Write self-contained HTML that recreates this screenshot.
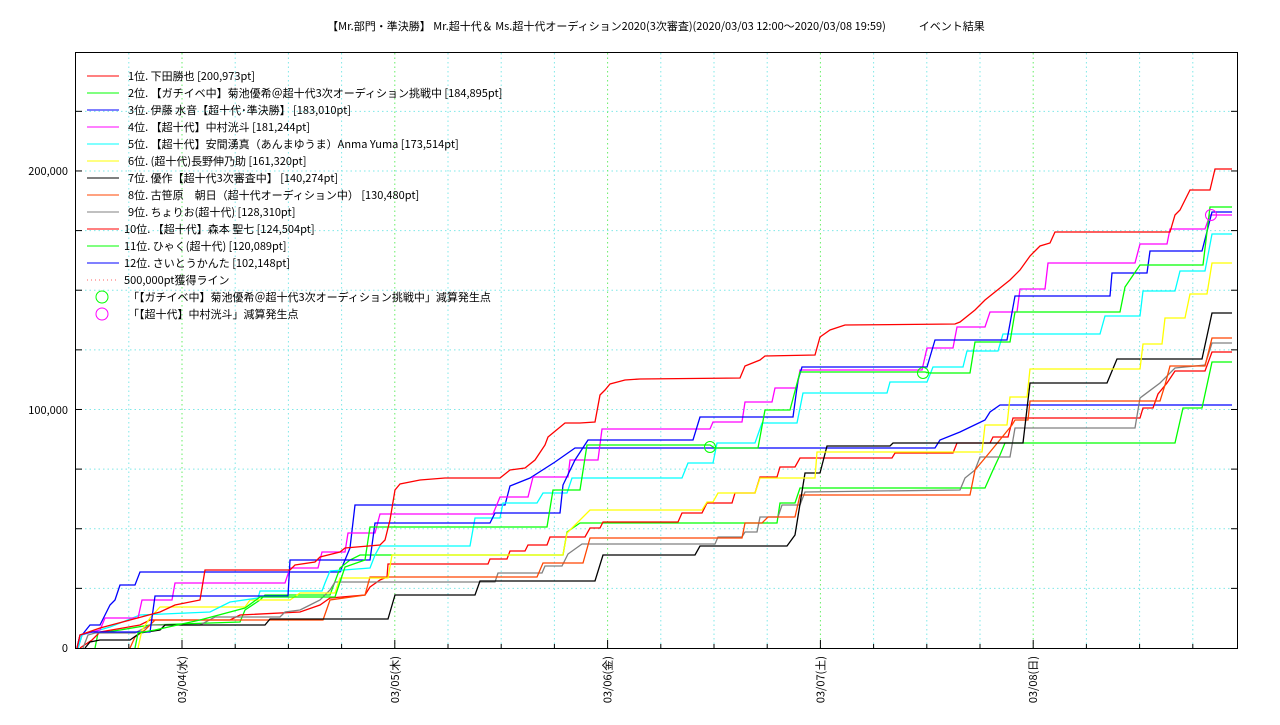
<!DOCTYPE html>
<html><head><meta charset="utf-8"><style>
body{margin:0;background:#fff;width:1280px;height:720px;overflow:hidden}
svg{font-family:"Noto Sans CJK JP","Liberation Sans",sans-serif}
</style></head><body>
<svg id="s" width="1280" height="720" xmlns="http://www.w3.org/2000/svg">
<rect width="1280" height="720" fill="#fff"/>
<text x="656" y="30" font-size="11" text-anchor="middle" fill="#000">【Mr.部門・準決勝】 Mr.超十代＆ Ms.超十代オーディション2020(3次審査)(2020/03/03 12:00～2020/03/08 19:59)　　　イベント結果</text>
<g id="grid"></g>
<g id="series" fill="none" stroke-width="1.3"></g>
<rect x="75.5" y="52.5" width="1162" height="596" fill="none" stroke="#000" stroke-width="1"/>
<g id="ticks" stroke="#000"></g>
<g font-size="11" fill="#000" text-anchor="end">
<text x="68" y="652">0</text><text x="68" y="414">100,000</text><text x="68" y="175">200,000</text>
</g>
<g id="xl" font-size="11" fill="#000"></g>
<g id="leg" font-size="11" fill="#000"></g>
<circle cx="710" cy="447" r="5.5" fill="none" stroke="#00ff00"/>
<circle cx="923" cy="373" r="5.5" fill="none" stroke="#00ff00"/>
<circle cx="1211" cy="215" r="5.5" fill="none" stroke="#ff00ff"/>
</svg>
<script>
var NS="http://www.w3.org/2000/svg";
function el(p,t,a,txt){var e=document.createElementNS(NS,t);for(var k in a)e.setAttribute(k,a[k]);if(txt)e.textContent=txt;document.getElementById(p).appendChild(e);return e;}
for(var k=1;k<10;k++){var y=648-k*59.63;if(y<53)break;el("grid","line",{x1:76,x2:1237,y1:y,y2:y,stroke:"#7fe8e8","stroke-dasharray":"1.5,3","stroke-width":1});
el("ticks","line",{x1:76,x2:82,y1:y,y2:y});el("ticks","line",{x1:1231,x2:1237,y1:y,y2:y});}
for(var i=-1;i<22;i++){var x=182+i*53.2;if(x<77||x>1236)continue;var maj=(i%4==0);
el("grid","line",{x1:x,x2:x,y1:53,y2:648,stroke:maj?"#66ee66":"#7fe8e8","stroke-dasharray":"1.5,3","stroke-width":1});
el("ticks","line",{x1:x,x2:x,y1:648,y2:maj?640:644});}
var days=["03/04(水)","03/05(木)","03/06(金)","03/07(土)","03/08(日)"];
for(var d=0;d<5;d++){var x=182+d*212.8;el("xl","text",{x:0,y:0,"text-anchor":"end",transform:"translate("+(x+4)+",656) rotate(-90)"},days[d]);}
var L=[["#ff0000","1位. 下田勝也 [200,973pt]"],["#00ff00","2位. 【ガチイベ中】菊池優希＠超十代3次オーディション挑戦中 [184,895pt]"],["#0000ff","3位. 伊藤 水音【超十代･準決勝】 [183,010pt]"],["#ff00ff","4位. 【超十代】中村洸斗 [181,244pt]"],["#00ffff","5位. 【超十代】安間湧真（あんまゆうま）Anma Yuma [173,514pt]"],["#ffff00","6位. (超十代)長野伸乃助 [161,320pt]"],["#000000","7位. 優作【超十代3次審査中】 [140,274pt]"],["#ff4500","8位. 古笹原　朝日（超十代オーディション中） [130,480pt]"],["#808080","9位. ちょりお(超十代) [128,310pt]"],["#ff0000","10位. 【超十代】森本 聖七 [124,504pt]"],["#00ff00","11位. ひゃく(超十代) [120,089pt]"],["#0000ff","12位. さいとうかんた [102,148pt]"]];
for(var i=0;i<L.length;i++){var y=76+i*17;el("leg","line",{x1:87,x2:119,y1:y,y2:y,stroke:L[i][0],"stroke-width":1});el("leg","text",{x:i<9?128:124,y:y+4},L[i][1]);}
el("leg","line",{x1:87,x2:119,y1:280,y2:280,stroke:"#ff6060","stroke-dasharray":"1,3"});el("leg","text",{x:124,y:284},"500,000pt獲得ライン");
el("leg","circle",{cx:102,cy:297,r:6,fill:"none",stroke:"#00ff00"});el("leg","text",{x:128,y:301},"「【ガチイベ中】菊池優希＠超十代3次オーディション挑戦中」減算発生点");
el("leg","circle",{cx:102,cy:314,r:6,fill:"none",stroke:"#ff00ff"});el("leg","text",{x:128,y:318},"「【超十代】中村洸斗」減算発生点");
var S=[
["#ff0000",[[77,648],[80,635],[100,628],[130,620],[160,612],[175,605],[200,600],[205,570],[290,570],[295,565],[315,562],[320,557],[340,552],[345,548],[380,545],[385,540],[390,520],[395,490],[400,484],[420,480],[445,478],[500,478],[510,470],[525,468],[535,460],[545,445],[548,437],[565,423],[580,423],[595,422],[600,395],[605,390],[610,384],[625,380],[640,379],[740,378],[745,366],[760,360],[765,356],[815,355],[820,337],[830,330],[845,325],[955,324],[960,322],[975,310],[985,300],[1005,284],[1010,280],[1020,270],[1030,256],[1040,246],[1050,243],[1055,232],[1170,232],[1175,215],[1180,210],[1190,190],[1210,190],[1215,169],[1232,169]]],
["#00ff00",[[135,648],[138,633],[155,630],[200,620],[245,608],[260,597],[335,597],[345,567],[365,560],[370,527],[547,527],[553,490],[580,490],[587,445],[710,445],[715,448],[758,448],[765,410],[790,410],[800,372],[925,372],[930,373],[970,373],[975,342],[1010,342],[1015,312],[1120,312],[1125,287],[1140,265],[1203,265],[1210,207],[1232,207]]],
["#0000ff",[[77,648],[80,635],[90,632],[150,632],[155,596],[288,596],[290,560],[370,560],[375,523],[490,523],[495,513],[560,513],[563,485],[575,460],[588,440],[693,440],[700,417],[793,417],[798,380],[802,367],[927,367],[935,340],[1007,340],[1015,296],[1110,296],[1112,273],[1147,273],[1150,251],[1202,251],[1212,212],[1232,212]]],
["#ff00ff",[[77,648],[80,635],[100,630],[105,618],[138,618],[142,600],[172,600],[175,583],[285,583],[290,568],[318,568],[322,552],[345,552],[348,533],[375,533],[380,514],[493,514],[500,497],[528,497],[533,477],[568,477],[570,460],[598,460],[602,429],[710,429],[713,422],[742,422],[745,402],[772,402],[775,388],[797,388],[800,370],[922,370],[927,348],[953,348],[957,327],[985,327],[990,312],[1017,312],[1020,289],[1045,289],[1048,263],[1135,263],[1140,244],[1167,244],[1170,229],[1205,229],[1210,215],[1232,215]]],
["#00ffff",[[78,648],[82,635],[110,627],[140,615],[210,612],[230,602],[258,598],[260,591],[322,591],[325,583],[330,571],[370,568],[375,555],[380,546],[470,546],[475,518],[500,518],[503,503],[537,503],[543,493],[567,493],[572,478],[682,478],[688,463],[713,463],[717,443],[755,443],[762,423],[797,423],[803,393],[887,393],[890,382],[927,382],[933,367],[963,367],[967,351],[998,351],[1003,334],[1100,334],[1105,316],[1140,316],[1143,291],[1175,291],[1180,271],[1205,271],[1212,234],[1232,234]]],
["#ffff00",[[138,648],[142,630],[150,618],[160,607],[245,607],[250,600],[290,600],[300,593],[335,593],[340,578],[388,578],[392,555],[563,555],[567,533],[590,510],[702,510],[707,502],[713,502],[718,493],[755,493],[760,478],[815,478],[817,452],[982,452],[985,425],[1007,425],[1010,397],[1027,397],[1030,369],[1140,369],[1143,344],[1162,344],[1165,318],[1185,318],[1190,294],[1207,294],[1212,263],[1232,263]]],
["#000000",[[85,648],[90,642],[100,640],[130,640],[140,633],[160,630],[165,625],[265,625],[270,619],[388,619],[395,595],[475,595],[480,581],[595,581],[603,555],[695,555],[700,546],[787,546],[795,535],[805,473],[820,473],[827,446],[890,446],[893,443],[1023,443],[1030,383],[1107,383],[1117,359],[1202,359],[1212,313],[1232,313]]],
["#ff4500",[[130,648],[135,637],[145,630],[155,620],[323,620],[330,600],[365,595],[370,577],[537,577],[543,563],[583,563],[590,538],[742,538],[745,523],[762,523],[768,517],[795,517],[800,495],[970,495],[975,470],[990,452],[1012,425],[1015,420],[1028,420],[1030,401],[1160,401],[1165,385],[1170,366],[1205,366],[1212,338],[1232,338]]],
["#808080",[[83,648],[88,635],[95,633],[135,633],[150,625],[200,625],[215,617],[280,617],[285,612],[300,610],[310,605],[320,600],[330,590],[335,582],[495,582],[498,573],[542,573],[545,566],[562,566],[568,554],[582,544],[715,544],[718,537],[742,537],[745,532],[757,532],[760,517],[778,517],[782,505],[800,505],[805,492],[960,490],[965,478],[975,470],[980,457],[1010,457],[1015,428],[1135,428],[1140,398],[1160,383],[1175,368],[1205,365],[1212,343],[1232,343]]],
["#ff0000",[[80,648],[92,640],[100,632],[140,625],[150,620],[230,620],[240,615],[300,612],[320,605],[330,598],[365,595],[370,587],[380,580],[387,577],[388,564],[488,564],[490,559],[507,559],[510,551],[525,551],[528,545],[547,545],[550,537],[585,537],[590,528],[600,528],[603,522],[678,522],[682,513],[702,513],[707,503],[732,503],[735,493],[755,493],[760,477],[777,477],[780,467],[795,467],[800,458],[892,458],[895,453],[953,453],[957,443],[990,443],[993,437],[1008,437],[1013,418],[1140,418],[1143,408],[1153,408],[1158,394],[1167,383],[1175,371],[1205,371],[1212,352],[1232,352]]],
["#00ff00",[[95,648],[98,633],[120,630],[150,625],[240,622],[245,610],[260,600],[265,595],[330,595],[340,568],[350,560],[360,555],[563,555],[567,532],[580,523],[777,523],[780,503],[795,503],[800,488],[985,488],[993,470],[1000,455],[1005,443],[1175,443],[1183,408],[1202,408],[1212,362],[1232,362]]],
["#0000ff",[[78,648],[82,635],[90,625],[100,625],[110,605],[115,600],[120,585],[135,585],[140,572],[340,572],[345,560],[350,548],[355,505],[505,505],[510,486],[530,478],[555,462],[575,448],[935,448],[940,440],[960,432],[985,420],[990,412],[1000,405],[1232,405]]]
];
for(var i=S.length-1;i>=0;i--){var p=S[i][1],d="M"+p[0][0]+" "+p[0][1];for(var j=1;j<p.length;j++)d+=" L"+p[j][0]+" "+p[j][1];el("series","path",{d:d,stroke:S[i][0]});}
</script>
</body></html>
